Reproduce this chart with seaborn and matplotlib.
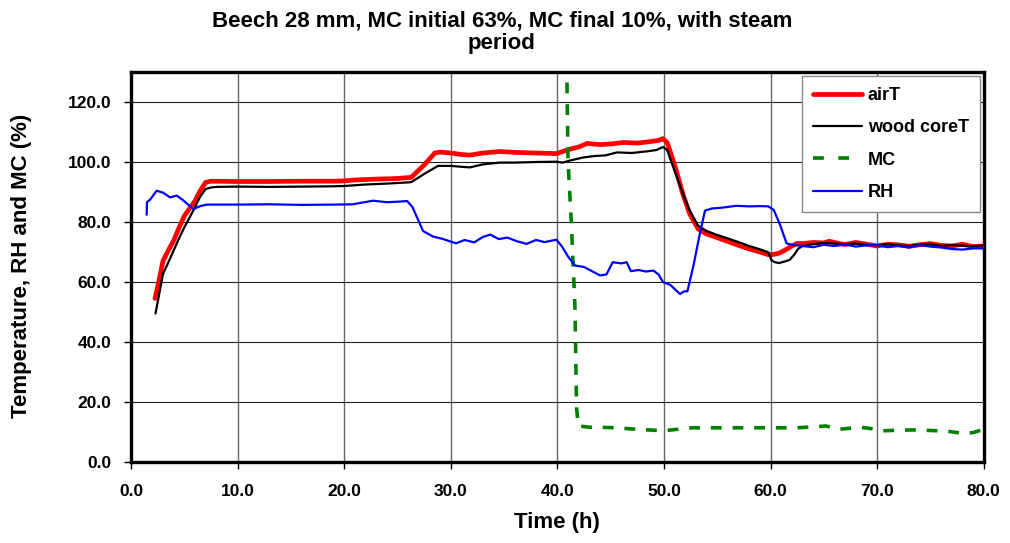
import matplotlib
matplotlib.use("Agg")
import matplotlib.pyplot as plt
import seaborn as sns
from matplotlib.lines import Line2D
from matplotlib.ticker import FormatStrFormatter, MultipleLocator

# air temperature (deg C) vs time (h)
air_t = [2.25, 2.6, 3.0, 3.5, 4.0, 4.5, 5.0, 5.5, 6.0, 6.5, 7.0, 7.5, 10, 13, 16, 19, 20, 21, 23, 25,
         26, 26.3, 27.5, 28.5, 29, 30, 31, 31.8, 33, 34.6, 36, 38, 39.9, 40.5, 41.2, 42, 42.8, 44, 45, 46.2,
         47.5, 48.7, 49.5, 49.9, 50.3, 51, 51.8, 52.4, 53.2, 54, 54.9, 56, 57, 58, 59, 59.8, 60.3, 60.8, 61.3, 61.8,
         62.5, 63, 64, 65, 65.5, 66.5, 67, 68, 69, 70, 71, 72, 73, 74, 75, 76, 77, 78, 79, 80]
air_v = [54.5, 60, 67, 70.5, 73.8, 78, 82, 84.5, 87, 90.5, 93.2, 93.6, 93.5, 93.5, 93.6, 93.6, 93.7, 94.0, 94.3, 94.5,
         94.8, 94.9, 99, 103.0, 103.3, 103.0, 102.5, 102.3, 103.0, 103.5, 103.2, 103.0, 102.8, 103.5, 104.3, 105.0, 106.2, 105.8, 106.0, 106.5,
         106.3, 106.8, 107.2, 107.8, 106.5, 99, 89, 82.8, 77.7, 76, 74.9, 73.5, 72.2, 71.0, 70.0, 69.1, 69.2, 69.6, 70.5, 71.6,
         72.9, 72.8, 73.2, 73.0, 73.6, 72.8, 72.5, 73.2, 72.6, 72.0, 72.6, 72.4, 71.9, 72.4, 72.8, 72.2, 72.0, 72.6, 71.8, 72.0]

# wood core temperature
core_t = [2.3, 2.7, 3.0, 3.5, 4.0, 4.5, 5.0, 5.5, 6.0, 6.5, 7.0, 7.5, 8.0, 10, 13, 16, 19, 20, 22, 24,
          26, 26.3, 27.5, 28.8, 30, 31, 31.8, 33, 34.6, 36, 38, 39.9, 40.5, 41.2, 42.4, 43.5, 44.5, 45.6, 47, 48.5,
          49.3, 49.9, 50.3, 51, 51.8, 52.4, 53.2, 54, 54.9, 56, 57, 58, 59, 59.8, 60.1, 60.4, 60.8, 61.3, 61.8, 62.2,
          62.6, 63, 64, 65, 66, 67, 68, 69, 70, 71, 72, 73, 74, 75, 76, 77, 78, 79, 80]
core_v = [49.5, 57, 62.7, 66.5, 70.5, 74.5, 78.2, 81.5, 84.9, 88.5, 91, 91.5, 91.7, 91.8, 91.7, 91.8, 91.9, 92.0, 92.5, 92.8,
          93.2, 93.3, 96, 98.7, 98.7, 98.4, 98.2, 99.2, 99.8, 99.8, 100.0, 100.1, 99.8, 100.5, 101.5, 102.0, 102.2, 103.2, 103.0, 103.6,
          104.0, 105.0, 104.0, 97, 89.3, 83.9, 78.8, 77.0, 75.8, 74.5, 73.3, 72.0, 70.9, 69.9, 67.2, 66.6, 66.3, 66.8, 67.4, 69.0,
          71.1, 72.0, 72.6, 73.0, 72.8, 72.6, 72.8, 72.4, 72.3, 72.6, 72.2, 72.0, 72.5, 72.6, 72.0, 72.3, 72.1, 71.9, 72.2]

# moisture content (%)
mc_t = [40.9, 41.0, 41.3, 41.65, 41.8, 41.96, 43, 44.5, 45.6, 47, 48.5, 49.9, 51, 52.7, 55, 58,
        60, 62.4, 63.5, 65.2, 66.4, 67.3, 68.3, 69.3, 70.5, 72, 73.6, 75, 76.5, 78.1, 79, 80]
mc_v = [126.5, 100.4, 80.5, 51.6, 18, 12.0, 11.6, 11.5, 11.4, 11.0, 10.7, 10.4, 10.8, 11.4, 11.4, 11.4,
        11.4, 11.4, 11.6, 12.0, 10.9, 11.2, 11.6, 11.2, 10.4, 10.6, 10.7, 10.5, 10.3, 9.5, 9.8, 10.9]

# relative humidity (%)
rh_t = [1.47, 1.5, 1.8, 2.4, 3.0, 3.66, 4.3, 4.8, 5.3, 5.85, 6.5, 7.1, 10, 13, 16, 19, 20.8, 22.7, 24, 25.2,
        25.9, 26.4, 27.4, 28.3, 29.2, 30.5, 31.3, 32.2, 33.0, 33.7, 34.5, 35.3, 36.2, 37.1, 38.0, 38.8, 39.9, 40.4, 41.0, 41.65,
        42.5, 43.3, 44.0, 44.6, 45.2, 46.0, 46.5, 46.9, 47.6, 48.3, 49.0, 49.5, 49.9, 50.6, 51.2, 51.5, 51.9, 52.2, 52.8, 53.3,
        53.85, 54.5, 55.5, 56.8, 58.0, 59.0, 59.8, 60.3, 60.9, 61.5, 62.0, 62.5, 63.0, 64.0, 65.0, 66.0, 67.0, 68.0, 69.0, 70.0,
        71.0, 72.0, 73.0, 74.0, 75.0, 76.0, 77.0, 78.0, 79.0, 80.0]
rh_v = [82.4, 86.6, 87.5, 90.4, 89.8, 88.2, 88.8, 87.5, 86.0, 84.3, 85.3, 85.8, 85.8, 85.9, 85.7, 85.8, 85.9, 87.1, 86.6, 86.8,
        87.0, 85.0, 77.0, 75.2, 74.4, 72.9, 74.0, 73.2, 75.0, 75.8, 74.3, 74.8, 73.6, 72.7, 74.0, 73.3, 74.1, 72.0, 68.5, 65.5,
        65.0, 63.5, 62.2, 62.5, 66.6, 66.2, 66.6, 63.6, 64.0, 63.5, 63.8, 62.5, 60.0, 59.0, 57.0, 56.0, 56.9, 56.9, 66, 75,
        83.8, 84.5, 84.8, 85.4, 85.2, 85.3, 85.2, 84.0, 79.0, 72.9, 72.4, 72.2, 72.0, 71.6, 72.4, 72.0, 72.5, 71.8, 72.2, 72.3,
        71.6, 72.0, 71.5, 72.3, 71.8, 71.5, 71.0, 70.8, 71.2, 71.2]

labels = ["airT", "wood coreT", "MC", "RH"]
colors = ["#ff0000", "#000000", "#008000", "#0000ff"]

sns.set_theme(style="white")
plt.rcParams["font.family"] = ["Liberation Sans", "DejaVu Sans"]
plt.rcParams["text.color"] = "black"
plt.rcParams["axes.labelcolor"] = "black"

fig = plt.figure(figsize=(10.1, 5.43), dpi=100)
ax = fig.add_axes([0.1297, 0.1492, 0.8443, 0.7182])

sns.lineplot(x=air_t, y=air_v, ax=ax, color=colors[0], linewidth=3.4, estimator=None, sort=False, zorder=3)
sns.lineplot(x=core_t, y=core_v, ax=ax, color=colors[1], linewidth=1.6, estimator=None, sort=False, zorder=4)
sns.lineplot(x=mc_t, y=mc_v, ax=ax, color=colors[2], linewidth=2.6, linestyle=(0, (3, 3)),
             estimator=None, sort=False, zorder=3)
sns.lineplot(x=rh_t, y=rh_v, ax=ax, color=colors[3], linewidth=1.6, estimator=None, sort=False, zorder=5)

ax.set_xlim(0, 80)
ax.set_ylim(0, 130)
ax.xaxis.set_major_locator(MultipleLocator(10))
ax.yaxis.set_major_locator(MultipleLocator(20))
ax.xaxis.set_major_formatter(FormatStrFormatter("%.1f"))
ax.yaxis.set_major_formatter(FormatStrFormatter("%.1f"))

ax.grid(False)
for xv in range(10, 80, 10):
    ax.axvline(xv, color="#666666", lw=1.0, zorder=1)
for yv in range(20, 130, 20):
    ax.axhline(yv, color="#222222", lw=0.8, zorder=1)

for s in ax.spines.values():
    s.set_visible(True)
    s.set_color("black")
    s.set_linewidth(2.4)

ax.tick_params(axis="both", which="major", bottom=True, left=True, direction="out",
               length=5, width=1, color="black", labelsize=12.5, labelcolor="black")
ax.tick_params(axis="y", pad=9)
ax.tick_params(axis="x", pad=11)
for lab in ax.get_xticklabels() + ax.get_yticklabels():
    lab.set_fontweight("bold")

ax.set_xlabel("Time (h)", fontsize=16, fontweight="bold", labelpad=9, color="black")
ax.set_ylabel("")
fig.text(22 / 1010, 1 - 418 / 543, "Temperature, RH and MC (%)", rotation=90,
         ha="center", va="bottom", fontsize=16, fontweight="bold", color="black")

fig.text(0.497, 1 - 11 / 543, "Beech 28 mm, MC initial 63%, MC final 10%, with steam\nperiod",
         ha="center", va="top", fontsize=16, fontweight="bold", linespacing=1.05, color="black")

handles = [
    Line2D([], [], color=colors[0], lw=3.4),
    Line2D([], [], color=colors[1], lw=1.6),
    Line2D([], [], color=colors[2], lw=2.6, linestyle=(0, (3, 4))),
    Line2D([], [], color=colors[3], lw=1.6),
]
leg = fig.legend(handles, labels, loc="upper left", bbox_to_anchor=(802 / 1010, 1 - 76 / 543),
                 prop={"weight": "bold", "size": 13}, frameon=True, fancybox=False,
                 handlelength=2.7, handletextpad=0.35, labelspacing=0.85, borderpad=0.6,
                 borderaxespad=0)
leg.get_frame().set_edgecolor("#888888")
leg.get_frame().set_linewidth(1.0)
leg.get_frame().set_facecolor("white")
leg.get_frame().set_alpha(1)
for txt in leg.get_texts():
    txt.set_color("black")

fig.savefig("out.png", dpi=100, facecolor="white")
